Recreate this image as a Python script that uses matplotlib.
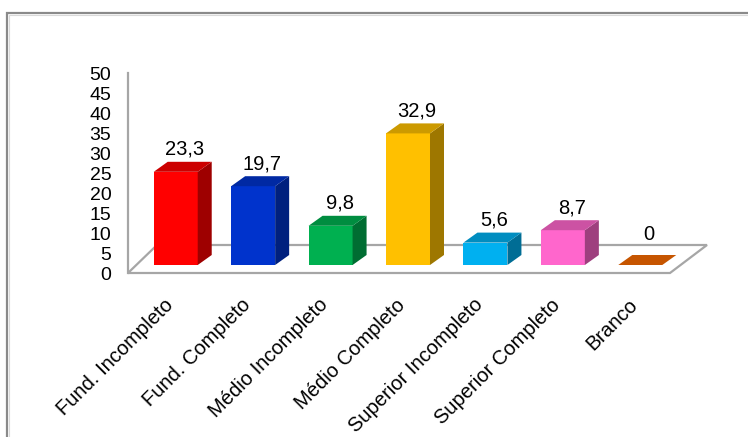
import numpy as np
import matplotlib.pyplot as plt
from matplotlib.patches import Polygon, Rectangle
from matplotlib.colors import to_rgb

categories = ['Fund. Incompleto', 'Fund. Completo', 'Médio Incompleto', 'Médio Completo',
              'Superior Incompleto', 'Superior Completo', 'Branco']
values = [23.3, 19.7, 9.8, 32.9, 5.6, 8.7, 0]
colors = ['#ff0000', '#0033cc', '#00b050', '#ffc000', '#00b0f0', '#ff66cc', '#c65500']
yticks = list(range(0, 51, 5))

plt.rcParams['font.family'] = ['Liberation Sans', 'DejaVu Sans']
plt.rcParams['font.size'] = 14.5

W, H = 748, 437
fig = plt.figure(figsize=(W / 100, H / 100), dpi=100)

# outer chart frame (runs off the right and bottom of the picture)
fig.patches.append(Rectangle((6.5 / W, -0.1), 1.2, (H - 13) / H + 0.1, transform=fig.transFigure,
                             fill=False, ec='#8a8a8a', lw=1.6))
fig.patches.append(Rectangle((8.5 / W, -0.1), 1.2, (H - 15) / H + 0.1, transform=fig.transFigure,
                             fill=False, ec='#d9d9d9', lw=0.8))

ax = fig.add_axes([128 / W, (H - 273) / H, (670 - 128) / W, 200 / H])
n = len(categories)
x = np.arange(n)
ax.set_xlim(-0.5, n - 0.5)
ax.set_ylim(0, 50)

# pixels per data unit, used for the fake 3d depth
sx = ax.bbox.width / n
sy = ax.bbox.height / 50


def off(px, py, dx, dy):
    return (px + dx / sx, py + dy / sy)


grey = '#a6a6a6'
# floor
floor = Polygon([(-0.5, 0), (n - 0.5, 0), off(n - 0.5, 0, 37, 28), off(-0.5, 0, 29, 28)],
                closed=True, fc='white', ec=grey, lw=1.6, clip_on=False, zorder=1)
ax.add_patch(floor)
ax.plot([-0.5, -0.5], [0, 50], color=grey, lw=1.6, clip_on=False, zorder=1)

bw = 44 / sx
fx, fy = 9 / sx, 8 / sy        # front face shift from the front floor edge
ddx, ddy = 14, 10              # bar depth in pixels
for xi, v, c in zip(x, values, colors):
    rgb = np.array(to_rgb(c))
    side = tuple(rgb * 0.62)
    top = tuple(rgb * 0.80)
    x0, x1 = xi + fx - bw / 2, xi + fx + bw / 2
    b, t = fy, fy + v
    if v > 0:
        ax.bar(xi + fx, v, width=bw, bottom=b, color=c, zorder=3, clip_on=False)
        ax.add_patch(Polygon([(x1, b), (x1, t), off(x1, t, ddx, ddy), off(x1, b, ddx, ddy)],
                             closed=True, fc=side, ec='none', zorder=3, clip_on=False))
        ax.add_patch(Polygon([(x0, t), (x1, t), off(x1, t, ddx, ddy), off(x0, t, ddx, ddy)],
                             closed=True, fc=top, ec='none', zorder=3, clip_on=False))
        lx, ly = off(xi + fx, t, 9, ddy + 3)
    else:
        ax.add_patch(Polygon([(x0, t), (x1, t), off(x1, t, ddx, ddy), off(x0, t, ddx, ddy)],
                             closed=True, fc=c, ec='none', zorder=3, clip_on=False))
        lx, ly = off(xi + fx, t, 9, ddy + 11)
    ax.text(lx, ly, f'{v:g}'.replace('.', ','), ha='center', va='bottom', zorder=4)

ax.set_yticks(yticks)
ax.set_yticklabels([str(t) for t in yticks], fontsize=14)
ax.set_xticks(x - 3 / sx)
ax.set_xticklabels(categories, rotation=45, ha='right', rotation_mode='anchor')
ax.tick_params(axis='y', length=0, pad=12)
ax.tick_params(axis='x', length=0, pad=16)
for s in ax.spines.values():
    s.set_visible(False)
ax.patch.set_visible(False)

fig.savefig('out.png', dpi=100)
